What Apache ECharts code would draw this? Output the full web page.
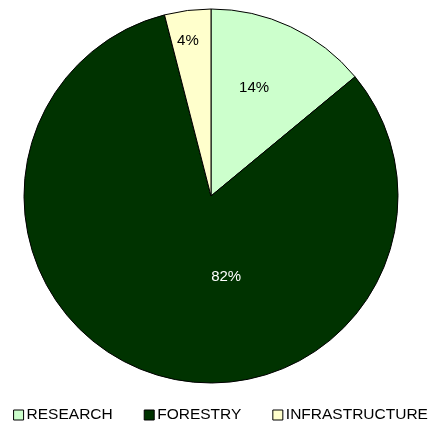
<!DOCTYPE html>
<html><head><meta charset="utf-8">
<script src="https://cdn.jsdelivr.net/npm/echarts@6/dist/echarts.min.js"></script>
<style>html,body{margin:0;padding:0;background:#fff}#c{width:441px;height:424px}</style>
</head><body><div id="c"></div>
<script>
var categories = ['RESEARCH', 'FORESTRY', 'INFRASTRUCTURE'];
var values = [14, 82, 4];
var colors = ['#ccffcc', '#003300', '#ffffcc'];
var labelColors = ['#000', '#fff', '#000'];
var labelOffsets = [[2, -21], [45, -11], [-11, -59]];

var chart = echarts.init(document.getElementById('c'));
chart.setOption({
  animation: false,
  legend: {
    top: 402,
    left: 'center',
    itemWidth: 10,
    itemHeight: 10,
    itemGap: 31,
    icon: 'rect',
    textStyle: { fontFamily: 'Liberation Sans, Arial, sans-serif', fontSize: 15.5, fontWeight: 'normal', color: '#000', padding: [0,0,0,-2] },
    itemStyle: { borderColor: '#000', borderWidth: 1 },
    data: categories
  },
  series: [{
    type: 'pie',
    center: [211, 196],
    radius: [0, 187],
    startAngle: 90,
    clockwise: true,
    avoidLabelOverlap: false,
    itemStyle: { borderColor: '#000', borderWidth: 1 },
    label: {
      position: 'inside',
      formatter: function (p) { return p.value + '%'; },
      fontFamily: 'Liberation Sans, Arial, sans-serif',
      fontSize: 15,
      fontWeight: 'normal'
    },
    labelLayout: function (p) {
      var o = labelOffsets[p.dataIndex];
      return { dx: o[0], dy: o[1] };
    },
    emphasis: { disabled: true },
    data: categories.map(function (c, i) {
      return { name: c, value: values[i], itemStyle: { color: colors[i] }, label: { color: labelColors[i] } };
    })
  }]
});
</script></body></html>
